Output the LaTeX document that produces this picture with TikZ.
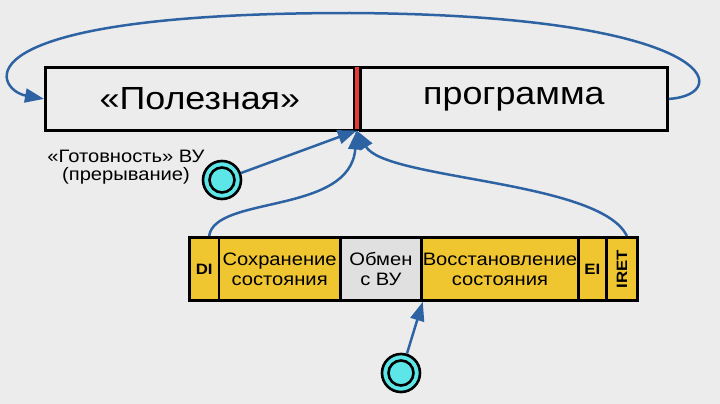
\documentclass[tikz,border=0pt]{standalone}
\usepackage{fontspec}
\setmainfont[FakeStretch=1.12]{Liberation Sans}
\usetikzlibrary{arrows.meta}
\definecolor{bgGray}{RGB}{236,236,236}
\definecolor{arrowBlue}{RGB}{46,99,163}
\definecolor{cellYellow}{RGB}{240,198,48}
\definecolor{cellGray}{RGB}{224,224,224}
\definecolor{devCyan}{RGB}{92,230,232}
\definecolor{divRed}{RGB}{232,56,56}
\begin{document}
\begin{tikzpicture}[
        x=1pt,
        y=-1pt,
        bigcell/.style={draw=black, line width=2.8pt, minimum height=63pt,
            inner sep=0pt, anchor=north west, font=\fontsize{32}{32}\selectfont},
        cell/.style={draw=black, line width=2.8pt, minimum height=63pt,
            inner sep=0pt, anchor=north west, align=center,
            font=\fontsize{18}{20}\selectfont},
        flag/.style={font=\bfseries\fontsize{15}{15}\selectfont},
        devout/.style={circle, draw=black, line width=2.6pt, fill=devCyan,
            minimum size=38pt, inner sep=0pt},
        devin/.style={circle, draw=black, line width=2.6pt,
            minimum size=25pt, inner sep=0pt},
        arr/.style={-{Triangle[length=19pt,width=14pt]}, line width=2.5pt,
            draw=arrowBlue}]
\path[use as bounding box, fill=bgGray] (0,0) rectangle (720,404);
% main program
\node[bigcell, minimum width=309pt] (useful) at (44,66) {«Полезная»};
\node[bigcell, minimum width=307pt] (prog) at (359,66) {программа};
\node[draw=black, line width=1.5pt, fill=divRed, anchor=north west,
    minimum width=6pt, minimum height=63pt, inner sep=0pt] (div) at (353,66) {};
% interrupt handler
\node[cell, flag, fill=cellYellow, minimum width=29.5pt] (di) at (188,236) {DI};
\node[cell, fill=cellYellow, minimum width=121.5pt] (save) at (217.5,236) {Сохранение\\состояния};
\node[cell, fill=cellGray, minimum width=81pt] (obmen) at (339,236) {Обмен\\с ВУ};
\node[cell, fill=cellYellow, minimum width=157pt] (restore) at (420,236) {Восстановление\\состояния};
\node[cell, flag, fill=cellYellow, minimum width=28pt] (ei) at (577,236) {EI};
\node[cell, flag, fill=cellYellow, minimum width=31pt] (iret) at (605,236) {\rotatebox{90}{IRET}};
% devices
\node[devout] (rdy) at (222,180) {};
\node[devin] at (rdy) {};
\node[devout] (dev) at (401,373) {};
\node[devin] at (dev) {};
\node[align=center, inner sep=0pt,
    font=\fontsize{18}{18}\selectfont] (rdylabel) at (126,167) {«Готовность» ВУ\\(прерывание)};
% arrows
\draw[arr] (prog.east) .. controls (735,95) and (720,15) .. (350,13)
    .. controls (-50,13) and (-5,90) .. (useful.west);
\draw[arr] (rdy) -- (div.south);
\draw[arr] ([xshift=5pt]di.north) .. controls (215,195) and (350,215) .. (div.south);
\draw[arr] ([xshift=5pt]iret.north) .. controls (600,180) and (385,180) .. (div.south);
\draw[arr] (dev) -- (obmen.south east);
\end{tikzpicture}
\end{document}
